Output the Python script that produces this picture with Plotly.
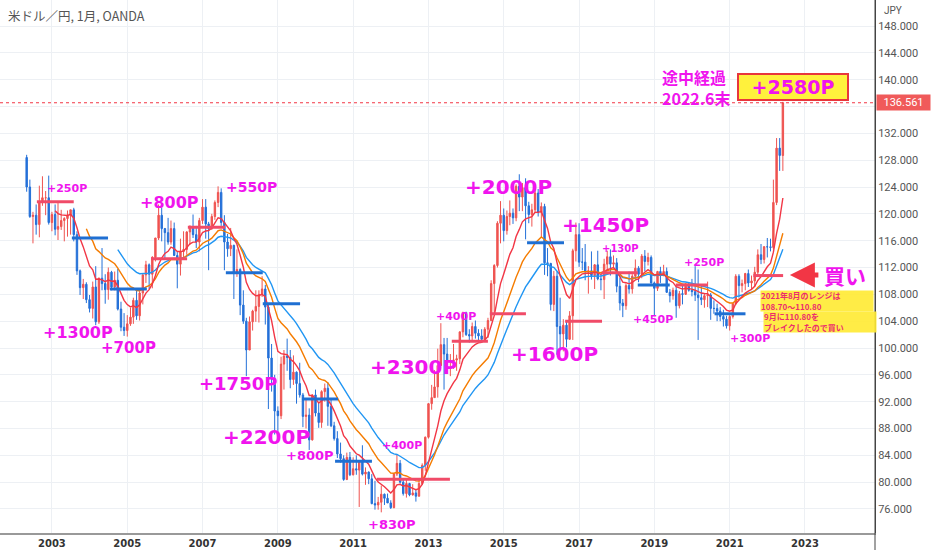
import pandas as pd
import plotly.graph_objects as go

# USD/JPY monthly candles, May 2002 .. Jun 2022
months = pd.date_range("2002-05-01", "2022-06-01", freq="MS")

opens = [
    128.4, 124.0, 119.6, 119.8, 118.4, 121.8, 122.4, 122.4,  # 2002 May-Dec
    118.7, 119.9, 117.7, 118.1, 119.0, 119.3, 119.8, 120.6, 116.9, 111.5, 109.0, 109.5,  # 2003
    107.2, 105.9, 109.1, 103.9, 110.4, 109.6, 108.7, 111.3, 109.1, 110.1, 105.8, 103.1,  # 2004
    102.6, 103.6, 104.6, 107.1, 104.8, 108.2, 110.9, 112.4, 111.0, 113.5, 116.4, 119.8,  # 2005
    117.8, 117.2, 115.8, 117.8, 113.8, 112.5, 114.4, 114.7, 117.3, 118.1, 116.9, 115.8,  # 2006
    119.0, 121.0, 118.5, 117.8, 119.6, 121.7, 123.2, 118.7, 115.8, 114.8, 115.3, 111.1,  # 2007
    111.7, 106.4, 104.0, 99.7, 103.9, 105.5, 106.2, 108.0, 108.8, 106.1, 98.5, 95.5,  # 2008
    90.6, 89.9, 97.6, 98.8, 98.6, 95.3, 96.4, 94.7, 93.0, 89.8, 90.0, 86.3,  # 2009
    93.0, 90.3, 88.9, 93.5, 94.0, 91.3, 88.4, 86.5, 84.2, 83.5, 80.4, 83.7,  # 2010
    81.1, 82.0, 81.8, 83.1, 81.2, 81.5, 80.5, 76.8, 76.6, 77.0, 78.2, 77.6,  # 2011
    76.9, 76.2, 81.2, 82.8, 80.0, 78.3, 79.8, 78.1, 78.4, 77.9, 79.8, 82.5,  # 2012
    86.7, 91.7, 92.6, 94.2, 97.4, 100.5, 99.1, 97.9, 98.1, 98.2, 98.4, 102.4,  # 2013
    105.3, 102.0, 101.8, 103.2, 102.2, 101.8, 101.3, 102.8, 104.1, 109.6, 112.3, 118.6,  # 2014
    119.8, 117.5, 119.6, 120.1, 119.4, 124.1, 122.5, 123.9, 121.2, 119.9, 120.6, 123.1,  # 2015
    120.2, 121.1, 112.7, 112.6, 106.5, 110.7, 103.2, 102.1, 103.4, 101.3, 104.8, 114.5,  # 2016
    116.9, 112.8, 112.8, 111.4, 111.5, 110.8, 112.4, 110.3, 110.2, 112.5, 113.6, 112.5,  # 2017
    112.7, 109.2, 106.7, 106.3, 109.3, 108.8, 110.7, 111.9, 111.0, 113.7, 112.9, 113.5,  # 2018
    109.7, 108.9, 111.4, 110.8, 111.4, 108.3, 107.8, 108.6, 106.3, 108.1, 108.0, 109.5,  # 2019
    108.6, 108.4, 107.9, 107.5, 107.2, 107.8, 107.9, 105.9, 105.9, 105.5, 104.7, 104.3,  # 2020
    103.3, 104.7, 106.6, 110.7, 109.3, 109.6, 111.1, 109.7, 110.0, 111.3, 113.9, 113.2,  # 2021
    115.1, 115.08, 115.0, 121.7, 129.8, 128.7,  # 2022 Jan-Jun
]
highs = [
    128.8, 125.1, 120.3, 121.4, 124.2, 125.6, 123.4, 125.7,
    120.3, 121.4, 121.9, 120.6, 119.5, 120.5, 120.6, 120.9, 117.4, 111.7, 110.3, 109.8,
    107.9, 109.9, 112.2, 110.5, 114.9, 111.0, 112.0, 111.5, 111.4, 111.8, 106.9, 105.2,
    104.9, 106.0, 107.5, 108.5, 108.8, 111.0, 113.0, 112.6, 113.7, 116.4, 121.4, 121.0,
    117.9, 119.4, 119.0, 118.7, 114.3, 116.3, 117.4, 117.4, 118.3, 119.9, 118.2, 119.4,
    122.2, 122.2, 118.8, 120.0, 122.0, 124.1, 123.8, 119.8, 117.0, 117.9, 115.4, 114.7,
    111.9, 108.6, 104.5, 104.7, 105.7, 108.6, 108.6, 110.7, 109.4, 106.5, 100.6, 96.0,
    91.3, 98.7, 99.7, 101.4, 99.7, 98.9, 96.5, 97.8, 93.3, 92.3, 91.0, 93.1,
    93.8, 91.8, 93.7, 94.7, 94.9, 92.4, 89.0, 87.6, 85.9, 84.0, 84.4, 84.5,
    83.7, 84.0, 83.3, 85.5, 82.2, 81.6, 81.2, 80.2, 77.8, 79.5, 78.3, 78.3,
    77.3, 81.3, 84.2, 83.3, 80.4, 80.6, 79.9, 79.7, 78.9, 80.4, 82.8, 86.8,
    91.8, 94.5, 96.7, 99.9, 103.7, 101.5, 101.5, 99.1, 100.6, 99.0, 102.5, 105.4,
    105.4, 102.8, 103.8, 104.1, 102.8, 102.8, 103.1, 104.5, 110.1, 112.5, 118.9, 121.9,
    120.8, 120.5, 122.0, 120.8, 124.4, 125.9, 124.6, 125.3, 121.8, 121.5, 123.8, 123.7,
    121.7, 121.5, 114.9, 112.7, 111.5, 111.4, 107.5, 104.3, 104.0, 105.5, 114.8, 118.7,
    118.6, 114.9, 115.5, 112.2, 114.4, 112.5, 114.5, 111.0, 113.3, 114.5, 114.7, 113.8,
    113.4, 110.5, 107.3, 109.6, 111.4, 111.0, 113.2, 112.2, 114.0, 114.6, 114.2, 113.8,
    109.9, 111.5, 112.1, 112.4, 112.0, 108.8, 109.0, 109.3, 108.5, 109.3, 109.7, 109.7,
    110.3, 112.2, 111.7, 109.4, 108.1, 109.9, 108.2, 107.1, 106.6, 106.1, 105.7, 104.8,
    104.9, 106.7, 111.0, 111.0, 110.2, 111.2, 111.7, 110.8, 112.1, 114.7, 115.5, 115.2,
    116.4, 116.3, 125.1, 131.3, 131.3, 136.7,
]
lows = [
    123.3, 119.4, 115.6, 116.9, 116.5, 121.2, 119.8, 118.4,
    117.4, 116.8, 116.1, 117.6, 115.9, 116.6, 116.9, 115.9, 110.9, 107.9, 107.3, 106.7,
    105.3, 104.4, 103.4, 103.6, 108.6, 106.6, 107.2, 108.6, 108.6, 105.6, 102.5, 101.8,
    101.7, 103.3, 103.6, 104.2, 104.1, 106.5, 109.7, 108.8, 108.9, 112.9, 116.1, 115.9,
    113.4, 115.4, 115.4, 113.7, 108.9, 110.8, 113.4, 113.9, 115.4, 116.4, 114.9, 114.4,
    118.5, 116.3, 111.6, 117.6, 119.1, 121.0, 118.2, 111.6, 113.6, 113.7, 107.3, 110.6,
    104.9, 103.6, 95.8, 99.7, 102.6, 103.9, 103.8, 107.6, 103.5, 90.9, 93.5, 87.1,
    87.1, 89.4, 93.8, 96.6, 94.0, 94.5, 91.7, 92.6, 88.2, 88.0, 84.8, 86.2,
    89.8, 88.1, 88.1, 92.0, 88.4, 88.2, 86.2, 83.6, 82.9, 80.2, 80.3, 80.9,
    81.0, 81.1, 76.3, 81.0, 79.6, 79.7, 76.7, 75.9, 75.9, 75.5, 76.6, 76.9,
    76.0, 76.1, 80.9, 79.8, 78.0, 77.7, 77.9, 78.0, 77.1, 77.9, 79.6, 81.7,
    86.5, 90.8, 92.6, 92.6, 97.3, 93.8, 97.6, 95.8, 96.9, 96.6, 97.6, 101.6,
    101.8, 100.8, 101.2, 101.4, 100.8, 101.2, 101.1, 101.5, 104.0, 105.2, 112.0, 115.6,
    115.9, 116.9, 118.3, 118.5, 118.9, 120.4, 120.4, 116.2, 118.6, 118.1, 120.3, 119.6,
    116.5, 110.9, 110.7, 105.6, 105.5, 99.0, 99.9, 99.5, 100.1, 101.2, 101.2, 112.9,
    112.1, 111.6, 110.1, 108.1, 110.2, 108.8, 110.1, 108.6, 107.3, 111.7, 110.8, 111.9,
    108.3, 105.6, 104.6, 105.7, 108.1, 108.1, 110.3, 109.8, 110.4, 111.4, 112.3, 109.6,
    104.9, 108.5, 109.7, 110.7, 108.2, 106.8, 107.2, 104.5, 105.9, 106.5, 107.9, 108.4,
    107.7, 107.0, 101.2, 106.4, 106.0, 106.1, 104.2, 105.1, 104.0, 104.0, 103.2, 102.9,
    102.6, 104.4, 106.4, 107.5, 108.3, 108.6, 109.1, 108.7, 109.1, 110.8, 112.5, 112.6,
    113.5, 114.4, 114.7, 121.3, 126.4, 126.4,
]
closes = [
    124.0, 119.6, 119.8, 118.4, 121.8, 122.4, 122.4, 118.7,
    119.9, 117.7, 118.1, 119.0, 119.3, 119.8, 120.6, 116.9, 111.5, 109.0, 109.5, 107.2,
    105.9, 109.1, 103.9, 110.4, 109.6, 108.7, 111.3, 109.1, 110.1, 105.8, 103.1, 102.6,
    103.6, 104.6, 107.1, 104.8, 108.2, 110.9, 112.4, 111.0, 113.5, 116.4, 119.8, 117.8,
    117.2, 115.8, 117.8, 113.8, 112.5, 114.4, 114.7, 117.3, 118.1, 116.9, 115.8, 119.0,
    121.0, 118.5, 117.8, 119.6, 121.7, 123.2, 118.7, 115.8, 114.8, 115.3, 111.1, 111.7,
    106.4, 104.0, 99.7, 103.9, 105.5, 106.2, 108.0, 108.8, 106.1, 98.5, 95.5, 90.6,
    89.9, 97.6, 98.8, 98.6, 95.3, 96.4, 94.7, 93.0, 89.8, 90.0, 86.3, 93.0,
    90.3, 88.9, 93.5, 94.0, 91.3, 88.4, 86.5, 84.2, 83.5, 80.4, 83.7, 81.1,
    82.0, 81.8, 83.1, 81.2, 81.5, 80.5, 76.8, 76.6, 77.0, 78.2, 77.6, 76.9,
    76.2, 81.2, 82.8, 80.0, 78.3, 79.8, 78.1, 78.4, 77.9, 79.8, 82.5, 86.7,
    91.7, 92.6, 94.2, 97.4, 100.5, 99.1, 97.9, 98.1, 98.2, 98.4, 102.4, 105.3,
    102.0, 101.8, 103.2, 102.2, 101.8, 101.3, 102.8, 104.1, 109.6, 112.3, 118.6, 119.8,
    117.5, 119.6, 120.1, 119.4, 124.1, 122.5, 123.9, 121.2, 119.9, 120.6, 123.1, 120.2,
    121.1, 112.7, 112.6, 106.5, 110.7, 103.2, 102.1, 103.4, 101.3, 104.8, 114.5, 116.9,
    112.8, 112.8, 111.4, 111.5, 110.8, 112.4, 110.3, 110.2, 112.5, 113.6, 112.5, 112.7,
    109.2, 106.7, 106.3, 109.3, 108.8, 110.7, 111.9, 111.0, 113.7, 112.9, 113.5, 109.7,
    108.9, 111.4, 110.8, 111.4, 108.3, 107.8, 108.6, 106.3, 108.1, 108.0, 109.5, 108.6,
    108.4, 107.9, 107.5, 107.2, 107.8, 107.9, 105.9, 105.9, 105.5, 104.7, 104.3, 103.3,
    104.7, 106.6, 110.7, 109.3, 109.6, 111.1, 109.7, 110.0, 111.3, 113.9, 113.2, 115.1,
    115.08, 115.0, 121.7, 129.8, 128.7, 136.561,
]
last_price = 136.561

# range lines drawn on the chart (price level, from / to as decimal years)
seg_level = [121.8, 116.4, 108.8, 113.3, 118.0, 111.2, 106.6, 92.4, 83.1, 80.45,
             101.0, 105.1, 115.7, 104.0, 111.2, 109.4, 109.4, 105.1, 110.8]
seg_start = [2002.60, 2003.53, 2004.54, 2005.63, 2006.61, 2007.62, 2008.60, 2009.64, 2010.52, 2011.63,
             2013.62, 2014.63, 2015.62, 2016.63, 2017.60, 2018.56, 2019.57, 2020.60, 2021.63]
seg_end = [2003.58, 2004.49, 2005.52, 2006.59, 2007.60, 2008.60, 2009.59, 2010.60, 2011.50, 2013.57,
           2014.58, 2015.59, 2016.60, 2017.61, 2018.56, 2019.41, 2020.42, 2021.42, 2022.42]
seg_side = ["red", "blue", "blue", "red", "red", "blue", "blue", "blue", "blue", "red",
            "red", "red", "blue", "red", "red", "blue", "red", "blue", "red"]

# pip gain labels
label_text = ["+250P", "+800P", "+550P", "+1300P", "+700P", "+1750P", "+2200P", "+800P", "+400P", "+830P",
              "+2300P", "+400P", "+2000P", "+1450P", "+1600P", "+130P", "+450P", "+250P", "+300P"]
label_x = [2003.40, 2006.11, 2008.29, 2003.69, 2005.02, 2007.94, 2008.71, 2009.85, 2012.30, 2012.03,
           2012.61, 2013.73, 2015.14, 2017.71, 2016.36, 2018.09, 2018.96, 2020.32, 2021.54]
label_y = [123.85, 121.76, 124.0, 102.38, 100.0, 94.78, 86.73, 83.9, 85.4, 73.76,
           97.17, 104.77, 124.0, 118.33, 99.1, 114.76, 104.32, 112.82, 101.49]
label_size = [11, 16, 14, 16, 15, 18, 20, 13, 11, 13, 20, 11, 20, 20, 20, 10, 11, 11, 11]

MAG = "#f014ee"
RED = "#ef5350"
BLUE = "#2470d8"
SEG_COLORS = {"red": "#f04b68", "blue": "#1f6fd2"}
CJK = "Noto Sans CJK JP"
LAT = "DejaVu Sans"


def yr(v):
    y = int(v)
    a = pd.Timestamp(year=y, month=1, day=1)
    b = pd.Timestamp(year=y + 1, month=1, day=1)
    return a + (b - a) * (v - y)


def ema(vals, n):
    out = [None] * len(vals)
    alpha = 2 / (n + 1)
    out[n - 1] = sum(vals[:n]) / n
    for i in range(n, len(vals)):
        out[i] = alpha * vals[i] + (1 - alpha) * out[i - 1]
    return out


fig = go.Figure()
fig.add_trace(go.Candlestick(
    x=months, open=opens, high=highs, low=lows, close=closes,
    increasing={"line": {"color": RED, "width": 1}, "fillcolor": RED},
    decreasing={"line": {"color": BLUE, "width": 1}, "fillcolor": BLUE},
    whiskerwidth=0, hoverinfo="skip",
))

for n, color in [(30, "#2196f3"), (20, "#f57c00"), (10, "#f23645")]:
    fig.add_trace(go.Scatter(x=months, y=ema(closes, n), mode="lines",
                             line={"color": color, "width": 1.4}, hoverinfo="skip"))

for side in ["red", "blue"]:
    xs, ys = [], []
    for lvl, s, e, sd in zip(seg_level, seg_start, seg_end, seg_side):
        if sd == side:
            xs += [yr(s), yr(e), None]
            ys += [lvl, lvl, None]
    fig.add_trace(go.Scatter(x=xs, y=ys, mode="lines",
                             line={"color": SEG_COLORS[side], "width": 3}, hoverinfo="skip"))

for t, x, y, s in zip(label_text, label_x, label_y, label_size):
    fig.add_annotation(x=yr(x), y=y, text=t, showarrow=False,
                       font={"family": LAT, "size": s, "color": MAG, "weight": "bold"})

# last price line and tag
fig.add_shape(type="line", xref="paper", x0=0, x1=1, y0=last_price, y1=last_price,
              line={"color": "#f23645", "width": 1, "dash": "dot"})
fig.add_annotation(xref="paper", x=1, xanchor="left", xshift=1, y=last_price, text=f"{last_price:.3f}",
                   showarrow=False, bgcolor="#f05a5a", width=51, height=13,
                   font={"family": "Roboto", "size": 11, "color": "white"})

# +2580P box and note
fig.add_annotation(x=yr(2022.68), y=138.9, text="+2580P", showarrow=False,
                   bgcolor="#fff13c", bordercolor="#e8363c", borderwidth=2, borderpad=0,
                   width=108, height=24,
                   font={"family": LAT, "size": 19, "color": MAG, "weight": "bold"})
fig.add_annotation(x=yr(2021.05), y=138.9, xanchor="right", text="途中経過<br>2022.6末",
                   showarrow=False, align="left",
                   font={"family": CJK, "size": 16, "color": MAG, "weight": "bold"})

# buy arrow and note boxes
fig.add_annotation(x=yr(2022.60), y=110.88, ax=30, ay=0, text="", showarrow=True,
                   arrowhead=2, arrowsize=1, arrowwidth=5, arrowcolor="#f23645", standoff=0)
fig.add_annotation(x=yr(2024.06), y=110.88, text="買い", showarrow=False,
                   font={"family": CJK, "size": 21, "color": MAG, "weight": "bold"})
for t, x, y in [("2021年8月のレンジは<br>108.70～110.80", 2021.80, 107.0),
                ("9月に110.80を<br>ブレイクしたので買い", 2021.88, 103.87)]:
    fig.add_annotation(x=yr(x), y=y, xanchor="left", text=t, showarrow=False, align="left",
                       bgcolor="rgba(255,234,50,0.9)", width=112, height=20, borderpad=0,
                       font={"family": CJK, "size": 8, "color": "#ec2d6d", "weight": "bold"})

# header texts
fig.add_annotation(xref="paper", yref="paper", x=0, y=1, xanchor="left", yanchor="top",
                   xshift=6, yshift=-4, text="米ドル／円, 1月, OANDA", showarrow=False,
                   font={"family": CJK, "size": 12.5, "color": "#555"})
fig.add_annotation(xref="paper", yref="paper", x=1, y=1, xanchor="left", yanchor="top",
                   xshift=7, yshift=-3, text="JPY", showarrow=False,
                   font={"family": "Roboto", "size": 10, "color": "#555"})
fig.add_shape(type="line", xref="paper", yref="paper", x0=1, x1=1, y0=-0.04, y1=1,
              line={"color": "#444", "width": 1})

fig.update_layout(
    width=932, height=550,
    margin={"l": 0, "r": 57, "t": 0, "b": 17},
    paper_bgcolor="white", plot_bgcolor="white",
    showlegend=False,
)
fig.update_xaxes(
    type="date", range=[yr(2001.62), yr(2024.86)],
    tick0="2003-01-01", dtick="M24", tickformat="%Y",
    showgrid=True, gridcolor="#edf0f4", gridwidth=1,
    showline=True, linecolor="#999", linewidth=1.5, ticks="", zeroline=False,
    tickfont={"family": LAT, "size": 10, "color": "#333", "weight": "bold"},
    rangeslider={"visible": False},
)
fig.update_yaxes(
    side="right", range=[72.42, 151.88], tick0=0, dtick=4, tickformat=".3f",
    showgrid=True, gridcolor="#edf0f4", gridwidth=1,
    showline=True, linecolor="#444", ticks="", zeroline=False,
    tickfont={"family": "Roboto", "size": 11, "color": "#555"},
)

# page body has an 8px default margin; drop it so the figure fills the window
fig.write_html("out.html", config={"displayModeBar": False},
               post_script="document.body.style.margin='0px';")
